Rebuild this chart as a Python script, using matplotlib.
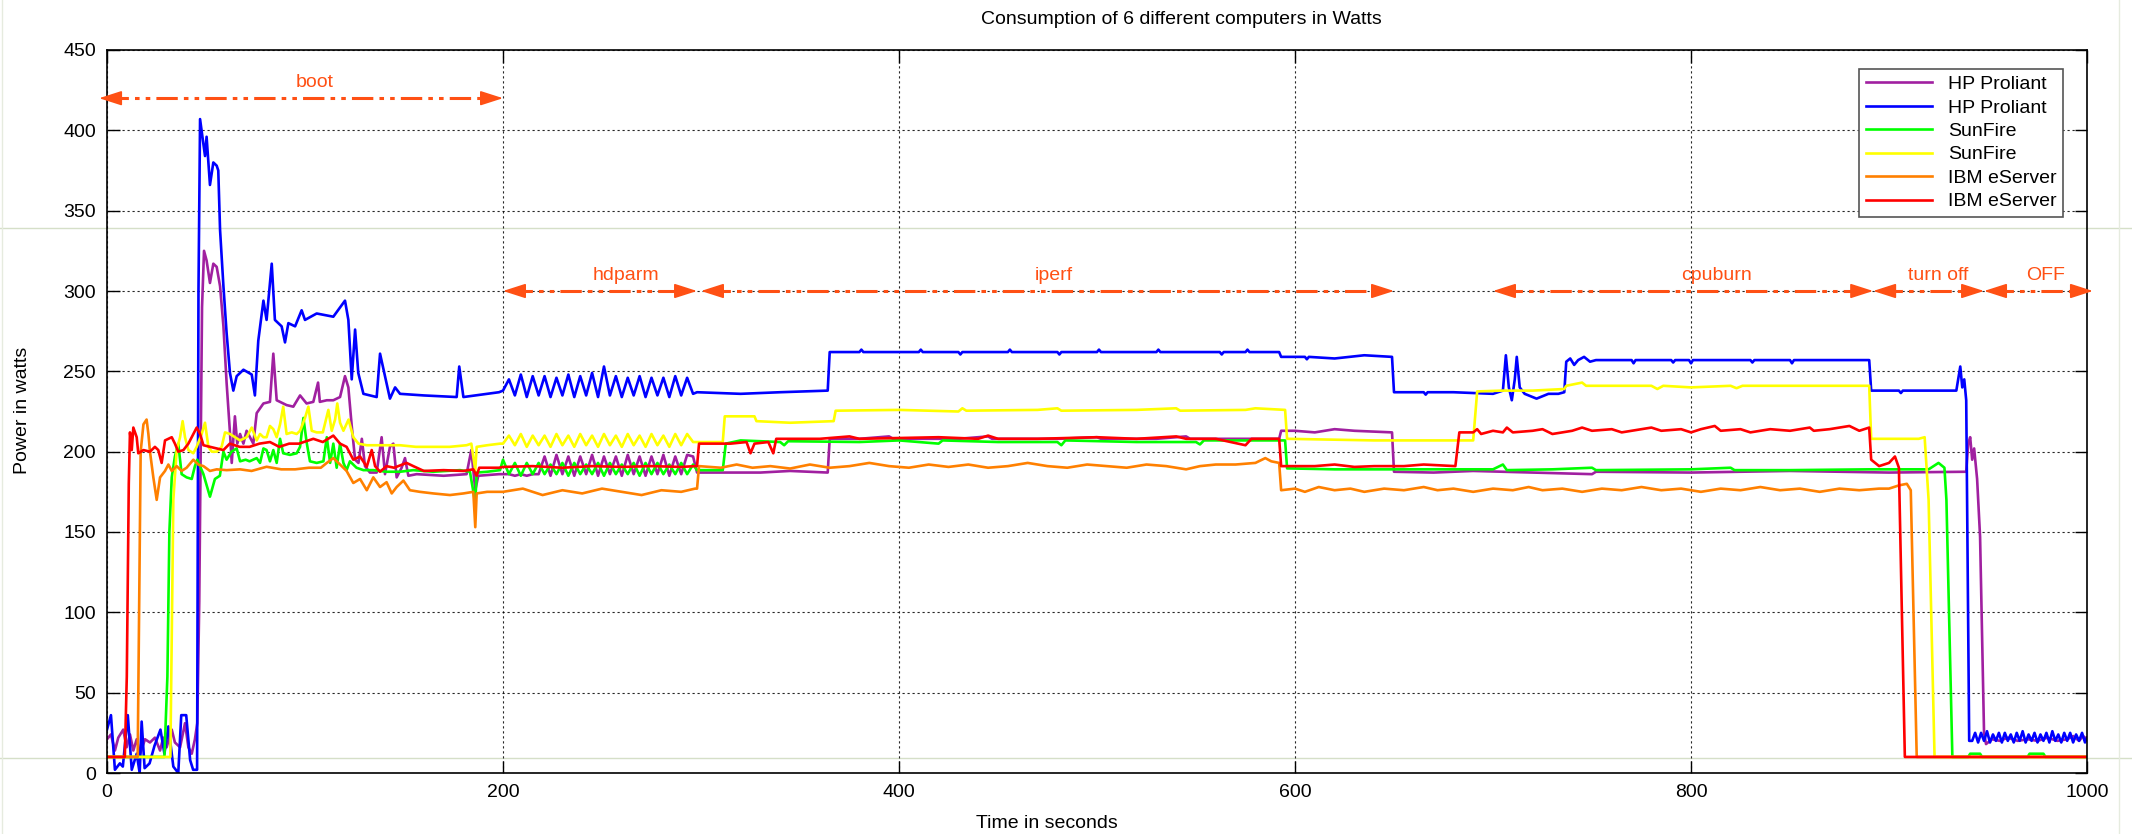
import matplotlib
matplotlib.use("Agg")
from matplotlib import pyplot as plt
from matplotlib.lines import Line2D

plt.rcParams['font.family'] = ['Liberation Sans', 'DejaVu Sans']

# time (s) -> watts
HD_T = [200, 203, 206, 209, 212, 215, 218, 221, 224, 227, 230, 233, 236, 239, 242, 245, 248,
        251, 254, 257, 260, 263, 266, 269, 272, 275, 278, 281, 284, 287, 290, 293, 296]

hp1_boot = [(0, 21), (2, 24), (4, 14), (5.7, 22), (8.2, 27), (9.9, 16), (11.6, 24), (13.3, 14), (15, 21),
            (16.7, 12), (19.2, 21), (21.7, 19), (24.2, 22), (26.8, 14), (28.4, 22), (30.1, 16), (32.7, 27),
            (34.3, 19), (36.9, 16), (39.4, 31), (41.1, 16), (42.8, 12), (44.4, 21), (45.6, 31), (46.6, 107),
            (48, 290), (49, 325), (50.3, 319), (52, 305), (53.7, 317), (55.4, 315), (57.1, 303), (58.8, 278),
            (60.4, 243), (62.1, 212), (63, 193), (64.6, 222), (65.8, 205), (67.2, 211), (68.9, 205), (70.5, 213),
            (73.9, 205), (75.6, 224), (77.3, 227), (79, 230), (82.3, 231), (84, 261), (85.7, 232), (87.4, 231),
            (90.7, 229), (94.1, 228), (97.5, 235), (100.8, 230), (104.2, 231), (106.6, 243), (107.5, 231),
            (111, 232), (114.3, 232), (117.7, 234), (120.2, 247), (121.9, 240), (123.6, 216), (125.3, 195),
            (127, 193), (128.7, 208), (130.3, 191), (132.8, 187), (136.2, 187), (138.7, 209), (140.4, 186),
            (142.9, 203), (144.6, 205), (146.3, 184), (148.8, 190), (150.5, 196), (152.2, 185), (156.4, 186),
            (170, 185), (181.6, 186), (184, 201), (186, 176), (187.5, 185), (198, 186)]
hp1_hd = [186, 186, 185, 186, 185, 186, 186, 197, 185, 198, 186, 197, 185, 197, 186, 198, 185,
          197, 186, 197, 185, 198, 186, 197, 185, 197, 186, 198, 185, 197, 186, 198, 197]
hp1_rest = [(298, 187), (330, 187), (345, 188), (364, 187), (365, 208), (380, 208), (395, 209.5), (397, 208),
            (430, 208), (445, 209.5), (447, 208), (480, 208), (500, 209), (502, 208), (530, 208), (545, 209.5),
            (547, 208), (580, 208), (592, 208), (593, 213), (600, 213), (610, 212), (620, 214), (630, 213),
            (649, 212), (650, 187.5), (670, 187), (690, 188), (720, 187), (750, 186), (752, 187.5), (800, 187),
            (850, 188), (900, 187), (939, 187.5), (940, 205), (941, 209), (942, 195), (943, 202), (944.5, 183),
            (946, 147), (948, 25), (949, 18), (952, 21), (956, 20), (960, 22), (965, 20), (970, 21), (975, 20),
            (980, 22), (985, 20), (990, 21), (993, 23), (996, 20), (998, 23), (1000, 21)]

hp2_boot = [(0, 27), (2, 36), (4, 2), (6.5, 6), (8, 4), (10.5, 36), (12.5, 2), (15, 12), (16.5, 0), (17.5, 32),
            (19, 3), (21.5, 6), (24, 17), (27, 27), (29, 12), (31, 29), (33.5, 4), (36, 0), (37.5, 36), (40, 36),
            (42, 8), (43.5, 2), (45.5, 2), (46.2, 300), (47, 407), (49.5, 384), (50.3, 396), (52, 366), (53.7, 380),
            (55.4, 378), (56.2, 375), (57.1, 338), (58.8, 303), (60.4, 274), (62.1, 249), (63.8, 238), (65.5, 247),
            (68.9, 251), (73.1, 248), (74.7, 235), (76.4, 269), (79, 294), (80.6, 282), (83.2, 317), (84.8, 282),
            (88.2, 278), (89.9, 268), (91.6, 280), (95, 278), (98.3, 288), (100, 282), (105.9, 286), (114.3, 284),
            (120.2, 294), (121.9, 282), (123.6, 245), (125.3, 276), (126.9, 249), (129.5, 236), (136.2, 234),
            (137.9, 261), (140.4, 247), (142.9, 233), (145.5, 240), (148, 236), (160, 235), (176.6, 234),
            (177.9, 253), (180, 234), (191.8, 236), (198, 237)]
hp2_hd = [238, 245, 235, 248, 234, 247, 235, 247, 234, 246, 235, 248, 234, 247, 235, 249, 234,
          253, 235, 247, 234, 246, 235, 247, 234, 246, 235, 246, 234, 247, 235, 246, 236]
hp2_rest = [(298, 237), (320, 236), (340, 237), (364, 238), (365, 262), (380, 262), (381, 263.5), (382, 262),
            (410, 262), (411, 263.5), (412, 262), (430, 262), (431, 260.5), (432, 262), (455, 262), (456, 263.5),
            (457, 262), (480, 262), (481, 260.5), (482, 262), (500, 262), (501, 263.5), (502, 262), (530, 262),
            (531, 263.5), (532, 262), (562, 262), (563, 260.5), (564, 262), (575, 262), (576, 263.5), (577, 262),
            (592, 262), (593, 259), (605, 259), (606, 257.5), (607, 259), (620, 258), (635, 260), (649, 259),
            (650, 237), (665, 237), (666, 235.5), (667, 237), (680, 237), (700, 236), (705, 238), (706.5, 260),
            (708, 240), (709.5, 232), (711, 245), (712, 259), (713.5, 240), (716, 236), (722, 233), (728, 236),
            (733, 236), (736, 237), (737, 256), (739, 258), (741, 254), (743, 257), (746, 259), (749, 256),
            (752, 257), (770, 257), (771, 255), (772, 257), (790, 257), (791, 255.5), (792, 257), (799, 257),
            (800, 255), (801, 257), (830, 257), (831, 255.5), (832, 257), (850, 257), (851, 255), (852, 257),
            (890, 257), (891, 238), (905, 238), (906, 236.5), (907, 238), (934, 238), (936, 253), (937, 240),
            (938, 245), (939, 232), (940.5, 20),
            (942, 20), (943.5, 25), (945, 19), (946.5, 25), (948, 20), (949.5, 26), (951, 19), (952.5, 24),
            (954, 20), (955.5, 25), (957, 19), (958.5, 25), (960, 20), (961.5, 24), (963, 19), (964.5, 25),
            (966, 20), (967.5, 26), (969, 19), (970.5, 24), (972, 20), (973.5, 25), (975, 19), (976.5, 24),
            (978, 20), (979.5, 25), (981, 19), (982.5, 26), (984, 20), (985.5, 24), (987, 19), (988.5, 25),
            (990, 20), (991.5, 25), (993, 19), (994.5, 24), (996, 20), (997.5, 25), (999, 19), (1000, 22)]

sun1_boot = [(0, 10), (29, 10), (30.5, 60), (31.5, 150), (32.7, 184), (34.3, 197), (36, 205), (37.7, 186),
             (40.2, 184), (42.8, 183), (44.4, 191), (45.6, 195), (48.7, 186), (52, 172), (54.5, 183), (57, 185),
             (58.8, 200), (60.4, 195), (62.9, 200), (65.5, 202), (67.2, 194), (70, 195), (72, 194), (75.6, 196),
             (77.3, 193), (79, 202), (80.6, 201), (82.3, 194), (84, 201), (85.7, 193), (87.4, 208), (89, 199),
             (92.4, 198), (95.8, 199), (97.5, 203), (99.2, 221), (100.8, 206), (102.5, 194), (105.9, 193),
             (109.3, 194), (111, 209), (112.7, 193), (114.3, 205), (116, 190), (117.7, 205), (119.4, 193),
             (121, 188.5), (122.7, 194), (126, 190), (129.5, 188.5), (134.5, 188.5), (141.2, 187.5), (148, 187.5),
             (154.7, 188.5), (164.8, 187.5), (178.3, 188.5), (183.3, 187.5), (186, 168), (186.7, 187), (192, 187.5),
             (198.5, 188.5)]
sun1_hd = [195, 186, 193, 185, 193, 186, 193, 186, 192, 186, 193, 185, 193, 186, 192, 186, 193,
           185, 193, 186, 192, 186, 193, 185, 193, 186, 193, 186, 192, 186, 193, 186, 192]
sun1_rest = [(298, 188.5), (311, 188.5), (312.5, 205), (320, 207), (340, 206), (342, 204), (344, 206.5),
             (380, 206), (400, 207), (420, 205), (422, 207), (450, 206), (480, 206), (482, 204), (484, 207),
             (520, 206), (550, 206), (552, 204.5), (554, 207), (580, 207), (595, 207), (596, 189.6), (620, 189),
             (650, 189), (680, 189), (700, 189), (705, 192), (707, 188.5), (730, 189), (750, 190), (752, 188.5),
             (800, 189), (820, 190), (822, 188.5), (850, 188.5), (890, 189), (920, 189), (925, 193), (928, 190),
             (929, 170), (932, 10), (940, 10), (941, 12), (946, 12), (947, 10), (970, 10), (971, 12), (978, 12),
             (979, 10), (1000, 10)]

sun2_boot = [(0, 10), (32, 10), (33.5, 170), (35.2, 201), (36.9, 209), (38.2, 219), (39.4, 209), (41.1, 201),
             (43.6, 199), (45.3, 203), (47.8, 211), (49.5, 218), (51.2, 203), (52.9, 200), (55.4, 200), (57.9, 203),
             (59.6, 212), (62.1, 211), (64.6, 209), (67.2, 207), (70.5, 209), (73.1, 215), (75.6, 207), (77.3, 211),
             (79, 209), (80.6, 209), (82.3, 216), (84, 214), (85.7, 209), (87.4, 217), (89, 228), (90.7, 211),
             (93.3, 212), (95.8, 211), (97.5, 213), (100, 221), (101.7, 228), (103.4, 213), (105.9, 212), (109, 212),
             (111.8, 226), (113.5, 213), (115.2, 220), (116.3, 230), (117.7, 218), (119.4, 213), (122, 220),
             (124.4, 209), (127, 205), (131.2, 204), (140, 204), (148, 204), (156, 203), (164.8, 203), (173, 203),
             (181.6, 204), (184, 205), (186, 188.5), (186.7, 203), (192, 204), (198.5, 205)]
sun2_hd = [205, 210, 204, 211, 203, 210, 204, 210, 203, 211, 204, 210, 203, 211, 204, 210, 203,
           211, 204, 210, 203, 211, 204, 210, 203, 211, 204, 210, 203, 211, 204, 211, 206]
sun2_rest = [(298, 206), (311, 206), (312, 222), (327, 222), (328, 219), (345, 218), (367, 219), (368, 225.5),
             (400, 226), (430, 225), (432, 227), (434, 225.5), (470, 226), (480, 227), (482, 225.5), (520, 226),
             (540, 227), (542, 225.5), (575, 226), (580, 227), (595, 226), (596, 208), (640, 207), (690, 207),
             (692, 237.5), (705, 238), (720, 238), (736, 239), (737, 241), (745, 243), (747, 241), (780, 241),
             (783, 239), (786, 241), (800, 240), (820, 241), (823, 239.5), (826, 241), (850, 241), (890, 241),
             (891, 208), (905, 208), (915, 208), (918, 209), (920, 170), (923, 10), (1000, 10)]

ibm1 = [(0, 10), (15.5, 10), (17, 200), (18.4, 217), (20, 220), (20.9, 211), (21.7, 200), (23.4, 184), (25.1, 170),
        (26.8, 184), (29.3, 188), (31, 192), (32.7, 188), (35.2, 191), (37.7, 188), (40.2, 190), (43.6, 195),
        (46.1, 192), (48.7, 191), (52, 188), (55.4, 189), (60.4, 188.5), (67.2, 189), (73, 188), (80.6, 190.6),
        (88, 189), (95, 189), (102, 190), (108, 190), (111, 193), (114.3, 196), (117.7, 192), (121, 188),
        (124.4, 180.5), (127.8, 183), (131.2, 176), (134.5, 184), (137.9, 178), (141.2, 181), (143.8, 174),
        (146.3, 178), (149.7, 182), (153, 176), (158, 175), (164.8, 174), (173.2, 173), (180, 174), (185, 175),
        (186, 153), (186.7, 174), (192, 175), (198, 175), (200, 175), (210, 177), (220, 173), (230, 176),
        (240, 174), (250, 177), (260, 175), (270, 173), (280, 176), (290, 175), (297, 177), (298, 177), (299, 191),
        (310, 190), (318, 192), (326, 190), (335, 191), (345, 189.5), (355, 192), (365, 190), (375, 191),
        (385, 193), (395, 191), (405, 190), (415, 192), (425, 190.5), (435, 192), (445, 190), (455, 191),
        (465, 193), (475, 191), (485, 190), (495, 192), (505, 191), (515, 190), (525, 192), (535, 191),
        (545, 189), (552, 191), (560, 192), (570, 192), (580, 193), (585, 196), (588, 194), (592, 193),
        (593, 176), (600, 177), (605, 175), (612, 178), (620, 176), (628, 177), (635, 175), (645, 177),
        (655, 176), (665, 178), (672, 176), (680, 177), (690, 175), (700, 177), (710, 176), (718, 178),
        (725, 176), (735, 177), (745, 175), (755, 177), (765, 176), (775, 178), (785, 176), (795, 177),
        (805, 175), (815, 177), (825, 176), (835, 178), (845, 176), (855, 177), (865, 175), (875, 177),
        (885, 176), (895, 177), (900, 177), (905, 179), (909, 180), (911, 176), (914, 10), (1000, 10)]

ibm2 = [(0, 10), (9, 10), (10, 60), (11, 180), (11.6, 212), (12.5, 201), (13.3, 215), (15, 209), (15.8, 199),
        (18.4, 201), (21.7, 200), (24.2, 203), (25.9, 201), (27.6, 193), (29.3, 207), (32.7, 209), (34.3, 205),
        (36, 200), (38.6, 201), (41.1, 205), (43.6, 211), (45.3, 215), (47, 211), (48.7, 204), (52, 203),
        (55.4, 202), (58.8, 201), (62, 205), (67, 203), (72, 203), (77, 205), (82.3, 206), (87, 203), (92, 205),
        (97, 205), (104.2, 208), (109, 206), (114.3, 210), (117.7, 205), (121, 203), (124.4, 195), (127.8, 197),
        (131.2, 190.6), (133.7, 201), (135.4, 191), (137.9, 187.5), (141.2, 191), (145, 190), (151.3, 193),
        (154.7, 191), (160, 188), (170, 188.5), (180, 188), (185, 189), (186.7, 185), (188, 190), (198, 190),
        (200, 190.5), (215, 191), (230, 190), (245, 191), (260, 190.5), (275, 191), (290, 190.5), (297, 191),
        (298, 191), (299, 205), (315, 205), (323, 206), (325, 199), (327, 205), (334, 206), (336.5, 199),
        (338, 208), (360, 208), (375, 209.5), (380, 208), (420, 209), (440, 208), (445, 210), (450, 208),
        (470, 208), (500, 209), (520, 208), (540, 209.5), (545, 208), (560, 208), (575, 204), (578, 208),
        (592, 208), (593, 191), (610, 191), (620, 192), (630, 190.5), (640, 191), (655, 191), (665, 192),
        (681, 191), (683, 212), (690, 212), (692, 214), (694, 211), (700, 213), (705, 212), (707, 215), (710, 212),
        (720, 213), (725, 214), (730, 211), (740, 213), (745, 215), (750, 213), (760, 214), (765, 212), (770, 213),
        (780, 215), (785, 213), (795, 214), (800, 212), (805, 214), (812, 216), (815, 213), (825, 214), (830, 212),
        (840, 214), (850, 213), (860, 215), (862, 213), (870, 214), (880, 216), (885, 213), (890, 215),
        (891, 195), (895, 191), (900, 193), (903, 197), (905, 190), (908, 10), (1000, 10)]

NAMES = ['HP Proliant', 'HP Proliant', 'SunFire', 'SunFire', 'IBM eServer', 'IBM eServer']
COLORS = ['#a020a0', '#0000ff', '#00ff00', '#ffff00', '#ff8000', '#ff0000']

# phases: (start, end, arrow y, label, label x)
PHASES = [(-4, 200, 420, 'boot', 105), (200, 298, 300, 'hdparm', 262), (300, 650, 300, 'iperf', 478),
          (700, 892, 300, 'cpuburn', 813), (892, 948, 300, 'turn off', 925), (948, 1003, 300, 'OFF', 979)]
ARROW_C = '#ff5014'


def series(boot, hd, rest):
    pts = boot + list(zip(HD_T, hd)) + rest
    return [p[0] for p in pts], [p[1] for p in pts]


def main():
    fig = plt.figure(figsize=(21.32, 8.34), dpi=100)
    ax = fig.add_axes([107 / 2132, 1 - 773 / 834, 1980 / 2132, 723 / 834])
    ax.patch.set_alpha(0)

    # faint screenshot lines
    for y in (228, 758):
        fig.add_artist(Line2D([0, 1], [1 - y / 834] * 2, color='#d5dfc8', lw=1, zorder=-1))
    for x in (2, 2119):
        fig.add_artist(Line2D([x / 2132] * 2, [0, 1], color='#e6ebdf', lw=1, zorder=-1))

    data = [series(hp1_boot, hp1_hd, hp1_rest), series(hp2_boot, hp2_hd, hp2_rest),
            series(sun1_boot, sun1_hd, sun1_rest), series(sun2_boot, sun2_hd, sun2_rest),
            ([p[0] for p in ibm1], [p[1] for p in ibm1]), ([p[0] for p in ibm2], [p[1] for p in ibm2])]
    for (t, w), name, c in zip(data, NAMES, COLORS):
        ax.plot(t, w, color=c, lw=1.9, label=name)

    for x0, x1, y, lab, lx in PHASES:
        ax.plot([x0 + 4, x1 - 4], [y, y], color=ARROW_C, lw=2.2, dashes=[7, 2, 1.5, 2, 1.5, 2],
                clip_on=False, zorder=5)
        for tip, base in ((x1, x1 - 5), (x0, x0 + 5)):
            ax.annotate('', xy=(tip, y), xytext=(base, y), annotation_clip=False, zorder=5,
                        arrowprops=dict(arrowstyle='-|>,head_length=1.4,head_width=0.45', color=ARROW_C,
                                        lw=1.2, shrinkA=0, shrinkB=0))
        ax.text(lx, y + 9.5, lab, color=ARROW_C, fontsize=14, ha='center', va='center')

    ax.set_xlim(0, 1000)
    ax.set_ylim(0, 450)
    ax.set_xticks(range(0, 1001, 200))
    ax.set_yticks(range(0, 451, 50))
    ax.tick_params(direction='in', length=9, width=1, labelsize=14, pad=8, top=True, right=True)
    ax.grid(True, color='black', linestyle=(0, (2, 2.5)), lw=0.8, alpha=0.85)
    for s in ax.spines.values():
        s.set_linewidth(1.2)

    leg = ax.legend(loc='upper right', bbox_to_anchor=(1 - 14 / 1980, 1 - 9 / 723), fontsize=14,
                    handlelength=3.4, handletextpad=0.8, labelspacing=0.3, borderpad=0.35,
                    fancybox=False, framealpha=1, edgecolor='#555555')
    leg.get_frame().set_linewidth(1.2)

    fig.text(1181 / 2132, 1 - 19 / 834, 'Consumption of 6 different computers in Watts',
             ha='center', va='center', fontsize=14)
    fig.text(1047 / 2132, 1 - 823 / 834, 'Time in seconds', ha='center', va='center', fontsize=14)
    fig.text(23 / 2132, 1 - 410 / 834, 'Power in watts', ha='center', va='center', fontsize=14, rotation=90)

    fig.savefig('out.png', dpi=100)


if __name__ == '__main__':
    main()
